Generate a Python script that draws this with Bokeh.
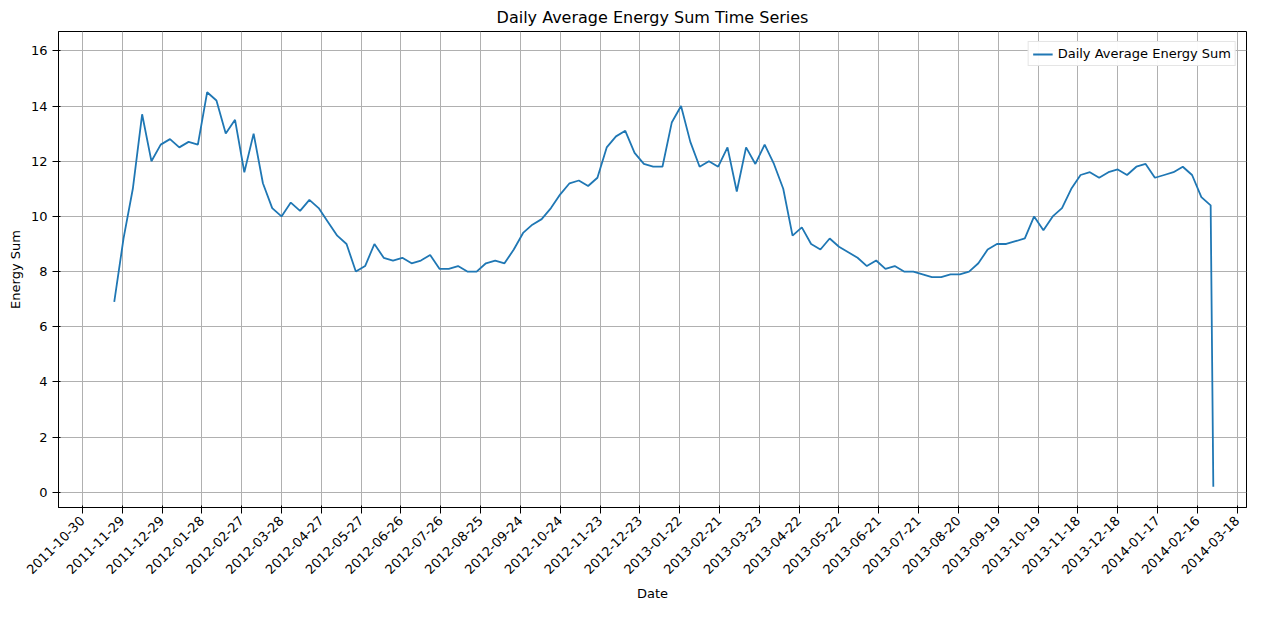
import math
import pandas as pd
from bokeh.plotting import figure
from bokeh.models import FixedTicker, DatetimeTickFormatter, Range1d
from bokeh.embed import file_html
from bokeh.resources import INLINE

start_date = "2011-11-23"
end_date = "2014-02-28"
# weekly readings from the chart, plus the last (partial) day
weekly_values = [
    6.9, 9.2, 11.0, 13.7, 12.0, 12.6, 12.8, 12.5, 12.7, 12.6, 14.5, 14.2, 13.0, 13.5,
    11.6, 13.0, 11.2, 10.3, 10.0, 10.5, 10.2, 10.6, 10.3, 9.8, 9.3, 9.0, 8.0, 8.2,
    9.0, 8.5, 8.4, 8.5, 8.3, 8.4, 8.6, 8.1, 8.1, 8.2, 8.0, 8.0, 8.3, 8.4, 8.3, 8.8,
    9.4, 9.7, 9.9, 10.3, 10.8, 11.2, 11.3, 11.1, 11.4, 12.5, 12.9, 13.1, 12.3, 11.9,
    11.8, 11.8, 13.4, 14.0, 12.7, 11.8, 12.0, 11.8, 12.5, 10.9, 12.5, 11.9, 12.6, 11.9,
    11.0, 9.3, 9.6, 9.0, 8.8, 9.2, 8.9, 8.7, 8.5, 8.2, 8.4, 8.1, 8.2, 8.0, 8.0, 7.9,
    7.8, 7.8, 7.9, 7.9, 8.0, 8.3, 8.8, 9.0, 9.0, 9.1, 9.2, 10.0, 9.5, 10.0, 10.3, 11.0,
    11.5, 11.6, 11.4, 11.6, 11.7, 11.5, 11.8, 11.9, 11.4, 11.5, 11.6, 11.8, 11.5, 10.7,
    10.4,
]
last_value = 0.2

dates = list(pd.date_range(start_date, periods=len(weekly_values), freq="7D")) + [pd.Timestamp(end_date)]
values = weekly_values + [last_value]

tick_dates = pd.date_range("2011-10-30", periods=30, freq="30D")

p = figure(width=1264, height=604, x_axis_type="datetime",
           title="Daily Average Energy Sum Time Series",
           output_backend="svg", toolbar_location=None,
           x_range=Range1d(pd.Timestamp("2011-10-12"), pd.Timestamp("2014-03-25")),
           y_range=Range1d(-0.55, 16.7),
           min_border_left=58, min_border_right=18, min_border_top=12)
p.title.align = "center"
p.title.text_font_size = "16px"
p.title.text_font_style = "normal"
p.title.text_font = "DejaVu Sans"
p.title.text_color = "black"

p.line(dates, values, line_width=1.8, color="#1f77b4",
       legend_label="Daily Average Energy Sum")

p.xaxis.ticker = FixedTicker(ticks=[d.value / 1e6 for d in tick_dates])
p.xaxis.formatter = DatetimeTickFormatter(days="%Y-%m-%d", months="%Y-%m-%d", years="%Y-%m-%d")
p.xaxis.major_label_orientation = math.pi / 4
p.yaxis.ticker = FixedTicker(ticks=list(range(0, 17, 2)))
p.xaxis.axis_label = "Date"
p.yaxis.axis_label = "Energy Sum"
for ax in (p.xaxis, p.yaxis):
    ax.axis_label_text_font_style = "normal"
    ax.axis_label_text_font_size = "13px"
    ax.major_label_text_font_size = "13px"
    ax.axis_label_text_font = "DejaVu Sans"
    ax.major_label_text_font = "DejaVu Sans"
    ax.axis_label_text_color = "black"
    ax.major_label_text_color = "black"
    ax.axis_line_color = "black"
    ax.major_tick_line_color = "black"
    ax.minor_tick_line_color = None
p.grid.grid_line_color = "#b0b0b0"
p.grid.grid_line_alpha = 1
p.outline_line_color = "black"
p.legend.location = "top_right"
p.legend.label_text_font_size = "13px"
p.legend.label_text_font = "DejaVu Sans"
p.legend.label_text_color = "black"
p.legend.padding = 4
p.legend.spacing = 0
p.legend.label_height = 14
p.legend.glyph_height = 14
p.legend.border_line_color = "#cccccc"

open("out.html", "w").write(file_html(p, INLINE))
